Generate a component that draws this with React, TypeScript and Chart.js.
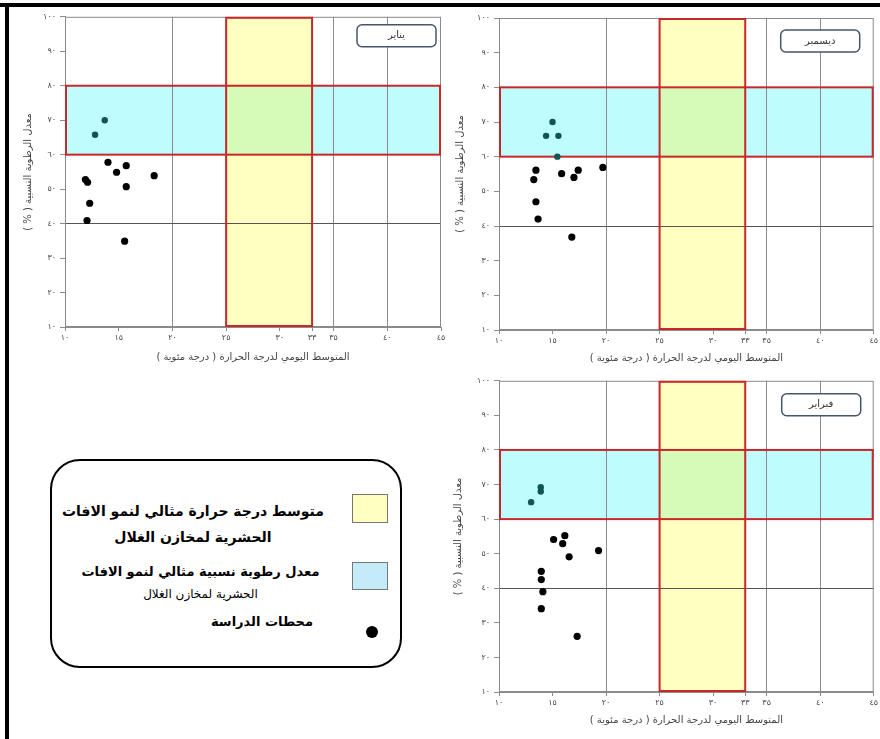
import React, { useEffect, useRef } from "react";
import { Chart, registerables } from "chart.js";

Chart.register(...registerables);

// ---------- data ----------
const xTicks = [10, 15, 20, 25, 30, 33, 35, 40, 45];
const yTicks = [10, 20, 30, 40, 50, 60, 70, 80, 90, 100];
const xGridValues = [20, 35, 40];
const yGridValues = [40];
const tempRange = [25, 33];
const humidityRange = [60, 80];

const janTemp = [13.7, 12.8, 14.0, 15.7, 14.8, 18.3, 11.9, 12.1, 15.7, 12.3, 12.05, 15.55];
const janHum = [70, 65.8, 57.8, 56.8, 54.9, 53.9, 52.8, 52.0, 50.7, 45.9, 40.9, 34.9];

const decTemp = [15.0, 14.4, 15.55, 15.45, 13.45, 13.25, 15.85, 17.4, 17.0, 19.7, 13.45, 13.65, 16.8];
const decHum = [70, 66, 66, 60, 56.1, 53.4, 55.1, 56.1, 54.0, 56.9, 47.0, 42.0, 36.8];

const febTemp = [13.9, 13.9, 13.0, 16.15, 15.1, 15.95, 16.55, 19.3, 13.95, 13.95, 14.1, 13.95, 17.3];
const febHum = [69.2, 68.0, 64.9, 55.2, 54.1, 52.9, 49.1, 50.9, 44.9, 42.5, 39.0, 34.1, 26.1];

const labelJan = "يناير";
const labelDec = "ديسمبر";
const labelFeb = "فبراير";
const xTitle = "المتوسط اليومي لدرجة الحرارة ( درجة مئوية )\u200F";
const yTitle = "معدل الرطوبة النسبية ( % )\u200F";
const legendTemp = ["متوسط درجة حرارة مثالي لنمو الافات", "الحشرية لمخازن الغلال"];
const legendHum = ["معدل رطوبة نسبية مثالي لنمو الافات", "الحشرية لمخازن الغلال"];
const legendStations = "محطات الدراسة";

// ---------- styles ----------
const CYAN = "#bffcfd";
const YELLOW = "#ffffc0";
const GREEN = "#d5fbb8";
const RED = "#c8282a";
const TEAL = "#0f5553";
const FONT = "'DejaVu Sans', 'Noto Sans', sans-serif";

const toArabic = (n: number) => String(n).replace(/[0-9]/g, (d) => "٠١٢٣٤٥٦٧٨٩"[+d]);

type Lay = {
  left: number; top: number; width: number; height: number;
  padTop: number; padRight: number; yAxisW: number; xAxisH: number;
  yTitlePad: number; xTitlePad: number; boxRight: number; boxTop: number;
};

const layJan: Lay = { left: 10, top: 8, width: 440, height: 365, padTop: 7, padRight: 9, yAxisW: 55, xAxisH: 46, yTitlePad: 12, xTitlePad: 10, boxRight: 5, boxTop: 8 };
const layDec: Lay = { left: 452, top: 8, width: 428, height: 370, padTop: 10, padRight: 5, yAxisW: 47, xAxisH: 48, yTitlePad: 2, xTitlePad: 14, boxRight: 14, boxTop: 12 };
const layFeb: Lay = { left: 452, top: 372, width: 428, height: 367, padTop: 8, padRight: 6, yAxisW: 47, xAxisH: 47, yTitlePad: 0, xTitlePad: 13, boxRight: 13, boxTop: 13 };

function Panel({ temps, hums, label, lay }: { temps: number[]; hums: number[]; label: string; lay: Lay }) {
  const ref = useRef<HTMLCanvasElement>(null);
  useEffect(() => {
    const canvas = ref.current!;
    const zones = {
      id: "zones",
      beforeDraw(chart: any) {
        const { ctx, chartArea: a, scales } = chart;
        const x = scales.x, y = scales.y;
        const tx0 = x.getPixelForValue(tempRange[0]);
        const tx1 = x.getPixelForValue(tempRange[1]);
        const hy0 = y.getPixelForValue(humidityRange[1]);
        const hy1 = y.getPixelForValue(humidityRange[0]);
        ctx.save();
        ctx.fillStyle = CYAN;
        ctx.fillRect(a.left, hy0, a.right - a.left, hy1 - hy0);
        ctx.fillStyle = YELLOW;
        ctx.fillRect(tx0, a.top, tx1 - tx0, a.bottom - a.top);
        ctx.fillStyle = GREEN;
        ctx.fillRect(tx0, hy0, tx1 - tx0, hy1 - hy0);
        ctx.restore();
      },
      beforeDatasetsDraw(chart: any) {
        const { ctx, chartArea: a, scales } = chart;
        const x = scales.x, y = scales.y;
        const tx0 = x.getPixelForValue(tempRange[0]);
        const tx1 = x.getPixelForValue(tempRange[1]);
        const hy0 = y.getPixelForValue(humidityRange[1]);
        const hy1 = y.getPixelForValue(humidityRange[0]);
        ctx.save();
        ctx.strokeStyle = "#8a8a8a";
        ctx.lineWidth = 1;
        ctx.strokeRect(a.left + 0.5, a.top + 0.5, a.right - a.left - 1, a.bottom - a.top - 1);
        ctx.strokeStyle = RED;
        ctx.lineWidth = 2;
        ctx.strokeRect(a.left + 1, hy0, a.right - a.left - 2, hy1 - hy0);
        ctx.strokeRect(tx0, a.top + 1, tx1 - tx0, a.bottom - a.top - 2);
        ctx.restore();
      },
      afterDraw(chart: any) {
        const { ctx, chartArea: a } = chart;
        const w = 79, h = 22;
        const bx = a.right - lay.boxRight - w;
        const by = a.top + lay.boxTop;
        ctx.save();
        ctx.fillStyle = "#ffffff";
        ctx.strokeStyle = "#46566a";
        ctx.lineWidth = 1.5;
        ctx.beginPath();
        (ctx as any).roundRect(bx, by, w, h, 5);
        ctx.fill();
        ctx.stroke();
        ctx.fillStyle = "#333";
        ctx.font = `10px ${FONT}`;
        ctx.textAlign = "center";
        ctx.textBaseline = "middle";
        ctx.fillText(label, bx + w / 2, by + h / 2);
        ctx.restore();
      },
    };

    const chart = new Chart(canvas, {
      type: "scatter",
      data: {
        datasets: [
          {
            data: temps.map((t, i) => ({ x: t, y: hums[i] })),
            pointRadius: (c: any) => (c.raw && c.raw.y >= humidityRange[0] && c.raw.y <= humidityRange[1] ? 3.2 : 3.6),
            pointBackgroundColor: (c: any) => (c.raw && c.raw.y >= humidityRange[0] && c.raw.y <= humidityRange[1] ? TEAL : "#000"),
            pointBorderWidth: 0,
            pointHoverRadius: 3.6,
          },
        ],
      },
      options: {
        animation: false,
        responsive: false,
        maintainAspectRatio: false,
        devicePixelRatio: 1,
        events: [],
        layout: { padding: { top: lay.padTop, right: lay.padRight, left: 0, bottom: 0 } },
        plugins: { legend: { display: false }, tooltip: { enabled: false } },
        scales: {
          x: {
            type: "linear",
            min: 10,
            max: 45,
            afterBuildTicks: (s: any) => { s.ticks = xTicks.map((v) => ({ value: v })); },
            afterFit: (s: any) => { s.height = lay.xAxisH; },
            grid: {
              color: (c: any) => (c.tick && xGridValues.includes(c.tick.value) ? "#8c8c8c" : "rgba(0,0,0,0)"),
              lineWidth: 1,
              tickColor: "#8c8c8c",
              tickLength: 4,
              drawTicks: true,
            },
            border: { display: true, color: "#8c8c8c" },
            ticks: {
              callback: (v: any) => toArabic(v),
              font: { family: FONT, size: 8 },
              color: "#444",
              padding: 2,
              maxRotation: 0,
              autoSkip: false,
            },
            title: {
              display: true,
              text: xTitle,
              font: { family: FONT, size: 10 },
              color: "#444",
              padding: { top: 0, bottom: lay.xTitlePad },
            },
          },
          y: {
            type: "linear",
            min: 10,
            max: 100,
            afterBuildTicks: (s: any) => { s.ticks = yTicks.map((v) => ({ value: v })); },
            afterFit: (s: any) => { s.width = lay.yAxisW; },
            grid: {
              color: (c: any) => (c.tick && yGridValues.includes(c.tick.value) ? "#555" : "rgba(0,0,0,0)"),
              lineWidth: 1,
              tickColor: "#8c8c8c",
              tickLength: 5,
              drawTicks: true,
            },
            border: { display: true, color: "#8c8c8c" },
            ticks: {
              callback: (v: any) => toArabic(v),
              font: { family: FONT, size: 8 },
              color: "#444",
              padding: 4,
              autoSkip: false,
            },
            title: {
              display: true,
              text: yTitle,
              font: { family: FONT, size: 10 },
              color: "#444",
              padding: { top: lay.yTitlePad, bottom: 0 },
            },
          },
        },
      } as any,
      plugins: [zones],
    } as any);
    return () => chart.destroy();
  }, []);
  return (
    <canvas
      ref={ref}
      width={lay.width}
      height={lay.height}
      style={{ position: "absolute", left: lay.left, top: lay.top, width: lay.width, height: lay.height }}
    />
  );
}

function Legend() {
  const txt: React.CSSProperties = {
    position: "absolute",
    direction: "rtl",
    whiteSpace: "nowrap",
    fontFamily: FONT,
    color: "#000",
    textAlign: "center",
  };
  return (
    <>
      <div
        style={{
          position: "absolute",
          left: 50,
          top: 459,
          width: 348,
          height: 205,
          border: "2px solid #000",
          borderRadius: 30,
          background: "#fff",
        }}
      />
      <div style={{ position: "absolute", left: 352, top: 494, width: 34, height: 27, background: "#ffffc0", border: "1px solid #777" }} />
      <div style={{ position: "absolute", left: 352, top: 562, width: 34, height: 26, background: "#c5eaf8", border: "1px solid #777" }} />
      <div style={{ position: "absolute", left: 366, top: 626, width: 12, height: 12, background: "#000", borderRadius: "50%" }} />
      <div style={{ ...txt, left: 58, width: 270, top: 498, lineHeight: "26px", fontSize: 14, fontWeight: "bold" }}>
        <div>{legendTemp[0]}</div>
        <div>{legendTemp[1]}</div>
      </div>
      <div style={{ ...txt, left: 68, width: 265, top: 561, lineHeight: "22px" }}>
        <div style={{ fontSize: 13, fontWeight: "bold" }}>{legendHum[0]}</div>
        <div style={{ fontSize: 12 }}>{legendHum[1]}</div>
      </div>
      <div style={{ ...txt, left: 150, width: 163, top: 612, lineHeight: "20px", fontSize: 13, fontWeight: "bold", textAlign: "right" }}>
        {legendStations}
      </div>
    </>
  );
}

export default function App() {
  return (
    <div style={{ position: "fixed", left: 0, top: 0, width: 880, height: 739, background: "#fff", overflow: "hidden" }}>
      <div style={{ position: "absolute", left: 0, top: 3, width: 880, height: 4, background: "#000" }} />
      <div style={{ position: "absolute", left: 5, top: 3, width: 4, height: 736, background: "#000" }} />
      <Panel temps={janTemp} hums={janHum} label={labelJan} lay={layJan} />
      <Panel temps={decTemp} hums={decHum} label={labelDec} lay={layDec} />
      <Panel temps={febTemp} hums={febHum} label={labelFeb} lay={layFeb} />
      <Legend />
    </div>
  );
}
